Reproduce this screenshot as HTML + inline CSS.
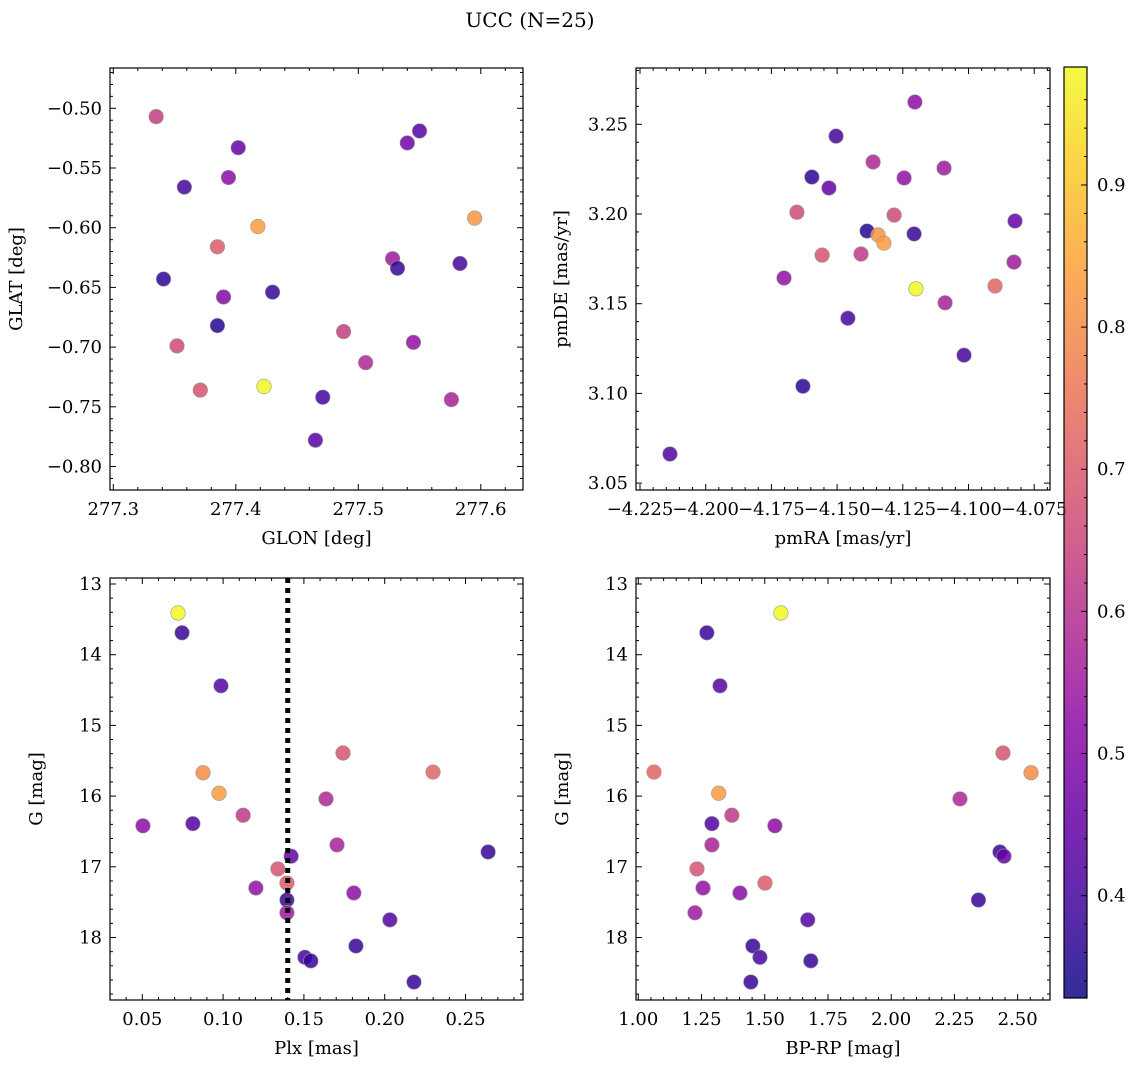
<!DOCTYPE html>
<html><head><meta charset="utf-8"><style>
html,body{margin:0;padding:0;background:#fff;}
svg{display:block;font-family:"DejaVu Serif","Liberation Serif",serif;}
</style></head><body>
<svg id="fig" width="1136" height="1067" viewBox="0 0 1136 1067" xmlns="http://www.w3.org/2000/svg">
<defs>
<linearGradient id="plasma" x1="0" y1="1" x2="0" y2="0">
<stop offset="0" stop-color="#0d0887"/><stop offset="0.1" stop-color="#41049d"/><stop offset="0.2" stop-color="#6a00a8"/><stop offset="0.3" stop-color="#8f0da4"/><stop offset="0.4" stop-color="#b12a90"/><stop offset="0.5" stop-color="#cc4778"/><stop offset="0.6" stop-color="#e16462"/><stop offset="0.7" stop-color="#f2844b"/><stop offset="0.8" stop-color="#fca636"/><stop offset="0.9" stop-color="#fcce25"/><stop offset="1" stop-color="#f0f921"/>
</linearGradient>
</defs>
<text x="530" y="27" font-size="20" text-anchor="middle">UCC (N=25)</text>
</svg>
<script>
// Panel 1 data
const glon = [277.335,277.402,277.550,277.540,277.358,277.394,277.418,277.595,277.385,277.528,277.532,277.583,277.341,277.430,277.390,277.385,277.488,277.352,277.545,277.506,277.423,277.371,277.471,277.576,277.465];
const glat = [-0.507,-0.533,-0.519,-0.529,-0.566,-0.558,-0.599,-0.592,-0.616,-0.626,-0.634,-0.630,-0.643,-0.654,-0.658,-0.682,-0.687,-0.699,-0.696,-0.713,-0.733,-0.736,-0.742,-0.744,-0.778];
const prob1 = [0.63,0.45,0.42,0.47,0.40,0.52,0.83,0.82,0.70,0.55,0.38,0.40,0.37,0.38,0.50,0.36,0.63,0.66,0.53,0.58,0.98,0.68,0.40,0.57,0.43];
// Panel 2 data
const pmra = [-4.1204,-4.1504,-4.1596,-4.1363,-4.1531,-4.1245,-4.1093,-4.1653,-4.1283,-4.0823,-4.1386,-4.1344,-4.1207,-4.1322,-4.1557,-4.1409,-4.0827,-4.1702,-4.0899,-4.1200,-4.1089,-4.1459,-4.1017,-4.1630,-4.2136];
const pmde = [3.2624,3.2434,3.2206,3.2290,3.2145,3.2201,3.2256,3.2010,3.1994,3.1961,3.1905,3.1883,3.1889,3.1838,3.1771,3.1777,3.1732,3.1643,3.1599,3.1583,3.1505,3.1419,3.1213,3.1040,3.0662];
const prob2 = [0.52,0.40,0.37,0.58,0.45,0.53,0.55,0.66,0.66,0.45,0.36,0.82,0.38,0.83,0.68,0.62,0.55,0.53,0.72,0.98,0.57,0.40,0.40,0.37,0.42];
// Panels 3 & 4 data
const plx = [0.0721,0.0746,0.0987,0.1742,0.2299,0.0876,0.0975,0.1637,0.1124,0.0504,0.0813,0.1705,0.2640,0.1421,0.1339,0.1395,0.1203,0.1809,0.1395,0.1395,0.2032,0.1822,0.1506,0.1543,0.2181];
const gmag = [13.41,13.69,14.44,15.39,15.66,15.67,15.96,16.04,16.27,16.42,16.39,16.69,16.79,16.85,17.03,17.23,17.30,17.37,17.47,17.65,17.75,18.12,18.28,18.33,18.63];
const bprp = [1.564,1.271,1.323,2.442,1.062,2.553,1.318,2.272,1.370,1.540,1.291,1.291,2.430,2.446,1.232,1.501,1.256,1.402,2.345,1.224,1.670,1.453,1.481,1.682,1.445];
const prob34 = [0.98,0.38,0.42,0.68,0.72,0.80,0.83,0.58,0.62,0.52,0.42,0.57,0.38,0.45,0.68,0.70,0.53,0.52,0.38,0.55,0.42,0.38,0.40,0.38,0.38];
const plxLine = 0.14;
const cbTicks = [0.4,0.5,0.6,0.7,0.8,0.9];

const NS = "http://www.w3.org/2000/svg";
const svg = document.getElementById('fig');
function mk(tag, attrs, parent){ const e=document.createElementNS(NS,tag); for(const k in attrs) e.setAttribute(k,attrs[k]); (parent||svg).appendChild(e); return e; }

const stops=[[0,[13,8,135]],[0.1,[65,4,157]],[0.2,[106,0,168]],[0.3,[143,13,164]],[0.4,[177,42,144]],[0.5,[204,71,120]],[0.6,[225,100,98]],[0.7,[242,132,75]],[0.8,[252,166,54]],[0.9,[252,206,37]],[1,[240,249,33]]];
const VMIN=0.328, VMAX=0.983;
function cmap(v){ let t=(v-VMIN)/(VMAX-VMIN); t=Math.max(0,Math.min(1,t));
  for(let i=0;i<stops.length-1;i++){ if(t<=stops[i+1][0]){ const f=(t-stops[i][0])/(stops[i+1][0]-stops[i][0]); const a=stops[i][1],b=stops[i+1][1]; return `rgb(${a.map((c,j)=>Math.round(c+(b[j]-c)*f)).join(',')})`; } }
  return 'rgb(240,249,33)'; }

const FS=18;
const BOX=[{l:110,r:523,t:68,b:490},{l:636,r:1050,t:68,b:490},{l:110,r:523,t:578,b:1000},{l:636,r:1050,t:578,b:1000}];
const axes=[
 {x:v=>113.3+(v-277.3)*1225, y:v=>108.3-(v+0.50)*1194, xr:[277.3,277.6,0.1,0.02,1], yr:[-0.8,-0.5,0.05,0.01,2], xl:'GLON [deg]', yl:'GLAT [deg]', ylx:22, name:'glon-glat'},
 {x:v=>640+(v+4.225)*2628, y:v=>124.3+(3.25-v)*1794, xr:[-4.225,-4.075,0.025,0.005,3], yr:[3.05,3.25,0.05,0.01,2], xl:'pmRA [mas/yr]', yl:'pmDE [mas/yr]', ylx:567, name:'pmra-pmde'},
 {x:v=>142.3+(v-0.05)*1616, y:v=>584+(v-13)*70.7, xr:[0.05,0.25,0.05,0.01,2], yr:[13,18,1,0.2,0], xl:'Plx [mas]', yl:'G [mag]', ylx:42, name:'plx-g'},
 {x:v=>638.3+(v-1)*252.9, y:v=>584+(v-13)*70.7, xr:[1,2.5,0.25,0.05,2], yr:[13,18,1,0.2,0], xl:'BP-RP [mag]', yl:'G [mag]', ylx:568, name:'bprp-g'}
];
function fmt(v,d){ const s=Math.abs(v).toFixed(d); return (v<-1e-9?'\u2212':'')+s; }

axes.forEach((a,i)=>{
  const B=BOX[i];
  const g=mk('g',{});
  
  
  const tg=mk('g',{stroke:'#000','stroke-width':1},g);
  const [xa,xb,xM,xm,xd]=a.xr;
  for(let v=xa-6*xm; v<=xb+20*xm; v+=xm){ const px=a.x(v); if(px<B.l+0.5||px>B.r-0.5) continue;
    const major=Math.abs(Math.round((v-xa)/xM)*xM-(v-xa))<xm/10;
    const L=major?6:3;
    mk('line',{x1:px,x2:px,y1:B.b,y2:B.b-L},tg); mk('line',{x1:px,x2:px,y1:B.t,y2:B.t+L},tg);
    if(major && v>=xa-1e-9 && v<=xb+1e-9){ const t=mk('text',{x:px,y:B.b+25,'font-size':FS,'text-anchor':'middle',stroke:'none',fill:'#000'},g); t.textContent=fmt(v,xd);
        }
  }
  const [ya,yb,yM,ym,yd]=a.yr;
  for(let v=ya-20*ym; v<=yb+20*ym; v+=ym){ const py=a.y(v); if(py<B.t+0.5||py>B.b-0.5) continue;
    const major=Math.abs(Math.round((v-ya)/yM)*yM-(v-ya))<ym/10;
    const L=major?6:3;
    mk('line',{y1:py,y2:py,x1:B.l,x2:B.l+L},tg); mk('line',{y1:py,y2:py,x1:B.r,x2:B.r-L},tg);
    if(major && v>=ya-1e-9 && v<=yb+1e-9){ const t=mk('text',{x:B.l-8,y:py+6,'font-size':FS,'text-anchor':'end',fill:'#000'},g); t.textContent=fmt(v,yd);
        }
  }
  const xt=mk('text',{x:(B.l+B.r)/2,y:B.b+54,'font-size':FS,'text-anchor':'middle'},g); xt.textContent=a.xl;
   
  const cy=(B.t+B.b)/2;
  const yt=mk('text',{x:a.ylx,y:cy,'font-size':FS,'text-anchor':'middle',transform:`rotate(-90 ${a.ylx} ${cy})`},g); yt.textContent=a.yl;
   
  a.g=g; a.B=B;
});

function scatter(ai,xs,ys,cs){ const a=axes[ai];
  const cp=mk('clipPath',{id:'cp'+ai}); mk('rect',{x:a.B.l,y:a.B.t,width:a.B.r-a.B.l,height:a.B.b-a.B.t},cp);
  const g=mk('g',{'clip-path':`url(#cp${ai})`},a.g);
  xs.forEach((v,k)=>{ const c=mk('circle',{cx:a.x(v),cy:a.y(ys[k]),r:7.3,fill:cmap(cs[k]),'fill-opacity':0.85,stroke:'#999','stroke-width':0.6},g);
      });
  return g;
}
scatter(0,glon,glat,prob1);
scatter(1,pmra,pmde,prob2);
const g3=scatter(2,plx,gmag,prob34);
const pl=mk('line',{x1:axes[2].x(plxLine),x2:axes[2].x(plxLine),y1:578,y2:1000,stroke:'#000','stroke-width':5,'stroke-dasharray':'5,5'},g3);
 
scatter(3,bprp,gmag,prob34);

BOX.forEach(B=>{ const r=mk('rect',{x:B.l,y:B.t,width:B.r-B.l,height:B.b-B.t,fill:'none',stroke:'#000','stroke-width':1.2});
    });

const CB={l:1064,r:1087,t:67,b:998};
const cbY=v=>CB.t+(VMAX-v)/(VMAX-VMIN)*(CB.b-CB.t);
const cbr=mk('rect',{x:CB.l,y:CB.t,width:CB.r-CB.l,height:CB.b-CB.t,fill:'url(#plasma)','fill-opacity':0.85,stroke:'#000','stroke-width':1.2});
 
for(let v=0.34; v<=0.98; v+=0.02){ const py=cbY(v); const major=cbTicks.some(t=>Math.abs(t-v)<0.001);
  mk('line',{x1:CB.r,x2:CB.r-(major?6:3),y1:py,y2:py,stroke:'#000','stroke-width':1}); }
cbTicks.forEach(v=>{ const t=mk('text',{x:1097,y:cbY(v)+6,'font-size':FS},svg); t.textContent=v.toFixed(1);
    });
</script>
</body></html>
